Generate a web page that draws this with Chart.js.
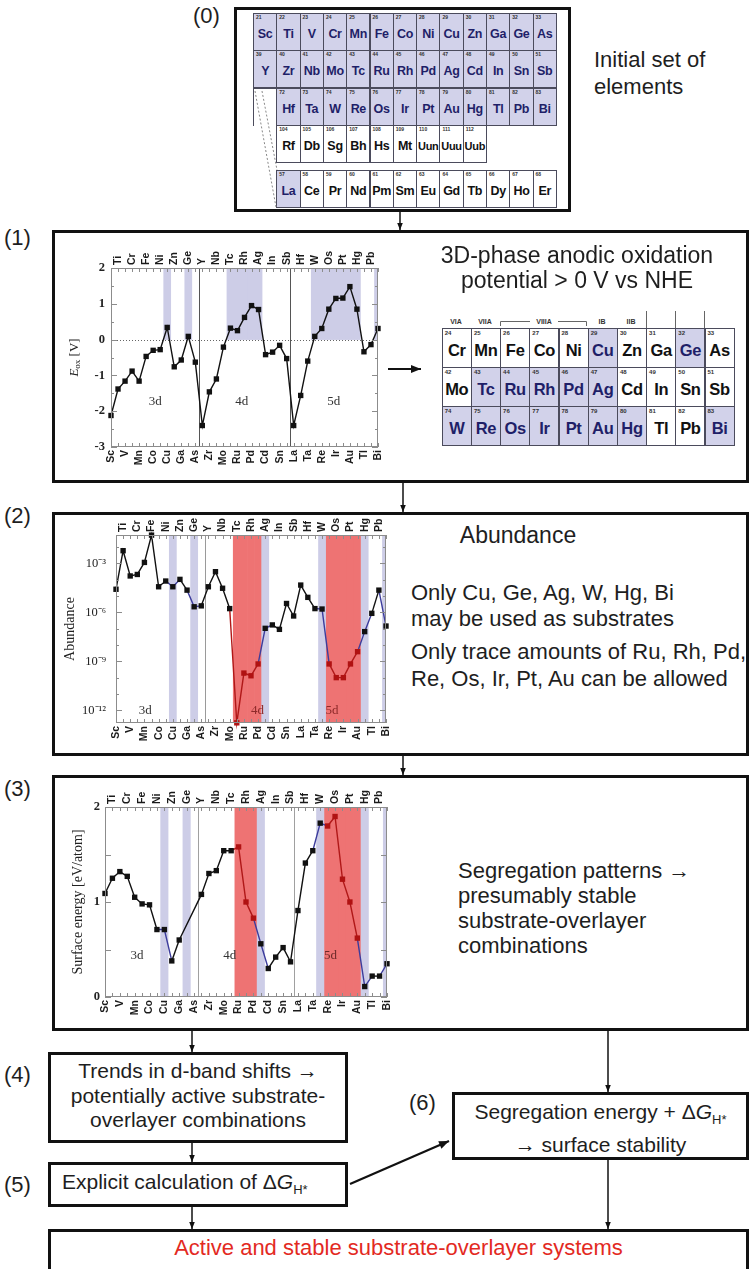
<!DOCTYPE html>
<html>
<head>
<meta charset="utf-8">
<title>Substrate-overlayer screening</title>
<script src="https://cdn.jsdelivr.net/npm/chart.js@4/dist/chart.umd.min.js"></script>
<style>
  body { margin: 0; background: #fff; }
  #page { position: relative; width: 753px; height: 1269px; overflow: hidden;
          font-family: 'Liberation Sans', Arial, sans-serif; color: #1e1e1e; }
  .box { position: absolute; box-sizing: border-box; border: 3px solid #111; background: #fff; }
  .tag { position: absolute; font-size: 22px; line-height: 22px; }
  .txt { position: absolute; font-size: 22px; line-height: 25px; white-space: nowrap; }
  .txt sub { font-size: 13px; color: #1e1e1e; }
  .ctr { text-align: center; }
  .ch { position: absolute; }
  .el { position: absolute; box-sizing: border-box; border: 1px solid #4b4b5c; background: #fff; }
  .el.on { background: #d2d2ea; }
  .el b { position: absolute; left: 0; right: 0; text-align: center; color: #111; letter-spacing: -0.3px; white-space: nowrap; }
  .el.on b { color: #1f1f68; }
  .el i { position: absolute; font-style: normal; font-weight: bold; color: #333; }
  .grp { position: absolute; width: 40px; text-align: center; font-size: 7px; line-height: 8px; font-weight: bold; color: #333; }
  svg { position: absolute; left: 0; top: 0; }
</style>
</head>
<body>
<div id="page">
  <!-- (0) initial set -->
  <div class="tag" style="left:193px;top:5px">(0)</div>
  <div class="box" style="left:234px;top:7px;width:337px;height:205px"></div>
  <div class="txt" style="left:594px;top:46px;line-height:27px">Initial set of<br>elements</div>

  <!-- (1) oxidation potential -->
  <div class="tag" style="left:4px;top:227px">(1)</div>
  <div class="box" style="left:52px;top:230px;width:697px;height:253px"></div>
  <canvas id="oxChart" class="ch" width="335" height="238" style="left:55px;top:238px"></canvas>
  <div class="txt ctr" style="left:377px;width:400px;top:243px;font-size:23px">3D-phase anodic oxidation<br>potential &gt; 0 V vs NHE</div>
  <div class="grp" style="left:436px;top:318px">VIA</div>
  <div class="grp" style="left:465px;top:318px">VIIA</div>
  <div class="grp" style="left:524px;top:318px">VIIIA</div>
  <div class="grp" style="left:582px;top:318px">IB</div>
  <div class="grp" style="left:611px;top:318px">IIB</div>

  <!-- (2) abundance -->
  <div class="tag" style="left:4px;top:505px">(2)</div>
  <div class="box" style="left:52px;top:512px;width:697px;height:244px"></div>
  <canvas id="abChart" class="ch" width="345" height="236" style="left:55px;top:513px"></canvas>
  <div class="txt ctr" style="left:418px;width:200px;top:523px;font-size:23px">Abundance</div>
  <div class="txt" style="left:411px;top:580px;line-height:26px">Only Cu, Ge, Ag, W, Hg, Bi<br>may be used as substrates</div>
  <div class="txt" style="left:411px;top:638px;line-height:27px">Only trace amounts of Ru, Rh, Pd,<br>Re, Os, Ir, Pt, Au can be allowed</div>

  <!-- (3) surface energy -->
  <div class="tag" style="left:4px;top:778px">(3)</div>
  <div class="box" style="left:52px;top:775px;width:697px;height:256px"></div>
  <canvas id="seChart" class="ch" width="345" height="245" style="left:55px;top:780px"></canvas>
  <div class="txt" style="left:458px;top:858px">Segregation patterns &rarr;<br>presumably stable<br>substrate-overlayer<br>combinations</div>

  <!-- (4)-(6) and result -->
  <div class="tag" style="left:4px;top:1064px">(4)</div>
  <div class="box" style="left:48px;top:1052px;width:300px;height:91px"></div>
  <div class="txt ctr" style="left:48px;width:300px;top:1059px;font-size:21px;line-height:24.5px">Trends in d-band shifts &rarr;<br>potentially active substrate-<br>overlayer combinations</div>

  <div class="tag" style="left:4px;top:1174px">(5)</div>
  <div class="box" style="left:48px;top:1162px;width:300px;height:45px"></div>
  <div class="txt" style="left:62px;top:1169px;font-size:21px">Explicit calculation of &Delta;<i>G</i><sub>H*</sub></div>

  <div class="tag" style="left:409px;top:1092px">(6)</div>
  <div class="box" style="left:452px;top:1092px;width:297px;height:68px"></div>
  <div class="txt ctr" style="left:452px;width:297px;top:1100px;font-size:21px;line-height:24.5px">Segregation energy + &Delta;<i>G</i><sub>H*</sub><br>&rarr; surface stability</div>

  <div class="box" style="left:48px;top:1229px;width:701px;height:61px"></div>
  <div class="txt ctr" style="left:48px;width:701px;top:1235px;color:#e32a1f">Active and stable substrate-overlayer systems</div>

  <svg id="links" width="753" height="1269">
    <defs>
      <marker id="ah" viewBox="0 0 10 10" refX="10" refY="5" markerWidth="7" markerHeight="7"
              orient="auto" markerUnits="userSpaceOnUse"><path d="M0,1 L10,5 L0,9 z" fill="#111"/></marker>
      <marker id="ahBig" viewBox="0 0 10 10" refX="10" refY="5" markerWidth="11" markerHeight="10"
              orient="auto" markerUnits="userSpaceOnUse"><path d="M0,1 L10,5 L0,9 z" fill="#111"/></marker>
    </defs>
    <g stroke="#111" stroke-width="1.5">
      <line x1="400" y1="212" x2="400" y2="230" marker-end="url(#ah)"/>
      <line x1="403" y1="483" x2="403" y2="512" marker-end="url(#ah)"/>
      <line x1="403" y1="756" x2="403" y2="775" marker-end="url(#ah)"/>
      <line x1="192" y1="1031" x2="192" y2="1052" marker-end="url(#ah)"/>
      <line x1="608" y1="1031" x2="608" y2="1092" marker-end="url(#ah)"/>
      <line x1="192" y1="1143" x2="192" y2="1162" marker-end="url(#ah)"/>
      <line x1="192" y1="1207" x2="192" y2="1229" marker-end="url(#ah)"/>
      <line x1="608" y1="1160" x2="608" y2="1229" marker-end="url(#ah)"/>
      <line x1="350" y1="1184" x2="449" y2="1141" stroke-width="2.2" marker-end="url(#ahBig)"/>
      <line x1="388" y1="369" x2="421" y2="369" stroke-width="2.2" marker-end="url(#ahBig)"/>
    </g>
    <g stroke="#888" stroke-width="1" stroke-dasharray="2,2" fill="none">
      <line x1="255" y1="91" x2="276" y2="207"/>
      <line x1="262" y1="91" x2="277" y2="170"/>
    </g>
    <g stroke="#666" stroke-width="1" fill="none">
      <path d="M500.5,326 L500.5,321.5 L530,321.5"/>
      <path d="M558,321.5 L586.5,321.5 L586.5,326"/>
      <line x1="646.5" y1="311" x2="646.5" y2="328"/>
      <line x1="675.5" y1="311" x2="675.5" y2="328"/>
      <line x1="704.5" y1="311" x2="704.5" y2="328"/>
    </g>
  </svg>
</div>

<script>
// transition-metal strip shared by all three panels
const elements = ['Sc','Ti','V','Cr','Mn','Fe','Co','Ni','Cu','Zn','Ga','Ge','As',
                  'Y','Zr','Nb','Mo','Tc','Ru','Rh','Pd','Ag','Cd','In','Sn','Sb',
                  'La','Hf','Ta','W','Re','Os','Ir','Pt','Au','Hg','Tl','Pb','Bi'];

// anodic oxidation potential E_ox [V vs NHE]
const oxidationPotential = [-2.12,-1.38,-1.16,-0.88,-1.16,-0.47,-0.30,-0.28, 0.34,-0.76,-0.57, 0.09,-0.63,
                            -2.40,-1.46,-1.10,-0.21, 0.32, 0.25, 0.62, 0.95, 0.84,-0.42,-0.35,-0.16,-0.53,
                            -2.40,-1.56,-0.60, 0.09, 0.31, 0.85, 1.15, 1.16, 1.48, 0.85,-0.34,-0.14, 0.31];
const eoxTicks = [-3, -2, -1, 0, 1, 2];

// crustal abundance (mass fraction)
const abundance = [2.6e-5, 6.0e-3, 1.7e-4, 2.1e-4, 1.15e-3, 5.4e-2, 3.7e-5, 8.3e-5, 3.7e-5, 1.05e-4, 2.3e-5, 2.2e-6, 2.5e-6,
                   3.7e-5, 3.1e-4, 3.0e-5, 1.7e-6, 1.7e-13, 1.9e-10, 1.3e-10, 6.9e-10, 1.05e-7, 1.7e-7, 9.1e-8, 3.5e-6, 6.0e-7,
                   4.7e-5, 8.3e-6, 1.7e-6, 1.6e-6, 6.9e-10, 1.0e-10, 1.0e-10, 6.9e-10, 3.9e-9, 6.6e-8, 8.7e-7, 2.3e-5, 1.45e-7];
const abundanceTicks = [1e-12, 1e-9, 1e-6, 1e-3];
const abundanceMinor = [1e-11, 1e-10, 1e-8, 1e-7, 1e-5, 1e-4, 1e-2];
const abundanceMin = 1.66e-13, abundanceMax = 5.5e-2;

// surface energy [eV/atom]; no value for Ge and As
const surfaceEnergy = [1.09, 1.25, 1.32, 1.27, 1.05, 0.98, 0.97, 0.71, 0.71, 0.38, 0.60, null, null,
                       1.08, 1.30, 1.33, 1.54, 1.54, 1.58, 1.00, 0.83, 0.56, 0.30, 0.42, 0.52, 0.37,
                       0.91, 1.41, 1.54, 1.83, 1.80, 1.90, 1.24, 1.00, 0.62, 0.11, 0.22, 0.22, 0.35];
const surfaceTicks = [0, 1, 2];

// element groups used for shading
const substrates = ['Cu','Ge','Ag','W','Hg','Bi'];
const traceAbundance = ['Tc','Ru','Rh','Pd','Re','Os','Ir','Pt','Au'];
const traceSurface = ['Ru','Rh','Pd','Re','Os','Ir','Pt','Au'];
const noblePotential = elements.filter((e, i) => oxidationPotential[i] > 0);

// periodic table rows
const tableRows = [
  { syms: ['Sc','Ti','V','Cr','Mn','Fe','Co','Ni','Cu','Zn','Ga','Ge','As'], z: 21, col: 0, on: true },
  { syms: ['Y','Zr','Nb','Mo','Tc','Ru','Rh','Pd','Ag','Cd','In','Sn','Sb'], z: 39, col: 0, on: true },
  { syms: ['Hf','Ta','W','Re','Os','Ir','Pt','Au','Hg','Tl','Pb','Bi'], z: 72, col: 1, on: true },
  { syms: ['Rf','Db','Sg','Bh','Hs','Mt','Uun','Uuu','Uub'], z: 104, col: 1, on: false },
  { syms: ['La','Ce','Pr','Nd','Pm','Sm','Eu','Gd','Tb','Dy','Ho','Er'], z: 57, col: 1, on: ['La'] }
];
const nobleRows = [
  { syms: ['Cr','Mn','Fe','Co','Ni','Cu','Zn','Ga','Ge','As'], z: 24 },
  { syms: ['Mo','Tc','Ru','Rh','Pd','Ag','Cd','In','Sn','Sb'], z: 42 },
  { syms: ['W','Re','Os','Ir','Pt','Au','Hg','Tl','Pb','Bi'], z: 74 }
];

const page = document.getElementById('page');
const links = document.getElementById('links');

function addCell(x, y, w, h, sym, num, on, symPx, numPx) {
  const d = document.createElement('div');
  d.className = 'el' + (on ? ' on' : '');
  Object.assign(d.style, { left: x + 'px', top: y + 'px', width: (w + 1) + 'px', height: (h + 1) + 'px' });
  const n = document.createElement('i');
  n.textContent = num;
  Object.assign(n.style, { left: '2px', top: '1px', fontSize: numPx + 'px', lineHeight: numPx + 'px' });
  const s = document.createElement('b');
  s.textContent = sym;
  const px = sym.length > 2 ? symPx - 1.5 : symPx;
  Object.assign(s.style, { top: (h / 2 - px * 0.5 + 2) + 'px', fontSize: px + 'px', lineHeight: px + 'px' });
  d.append(n, s);
  page.insertBefore(d, links);
}

const rowTops = [13, 50, 88, 125, 170];
tableRows.forEach((r, ri) => {
  r.syms.forEach((s, i) => {
    const on = Array.isArray(r.on) ? r.on.includes(s) : r.on;
    addCell(253 + (r.col + i) * 23.3, rowTops[ri], 23.3, 37, s, r.z + i, on, 12.5, 5);
  });
});
// empty lanthanide slot left of Hf
const slot = document.createElement('div');
Object.assign(slot.style, { position: 'absolute', left: '253px', top: '88px', width: '24px', height: '38px',
  borderLeft: '1px solid #4b4b5c', borderTop: '1px solid #4b4b5c', boxSizing: 'border-box' });
page.insertBefore(slot, links);

nobleRows.forEach((r, ri) => {
  r.syms.forEach((s, i) => {
    addCell(441.7 + i * 29.2, 328 + ri * 39, 29.2, 39, s, r.z + i, noblePotential.includes(s), 16.5, 6);
  });
});

// ---- charts ----
const SUP = { '-': '\u207b', '0': '\u2070', '1': '\u00b9', '2': '\u00b2', '3': '\u00b3', '4': '\u2074',
              '5': '\u2075', '6': '\u2076', '7': '\u2077', '8': '\u2078', '9': '\u2079' };
const sup = n => String(n).split('').map(c => SUP[c]).join('');

const LAV = '#cdcde7';
const RED = '#ee7373';
const serif = '"Liberation Serif", "Times New Roman", serif';
const LABEL_LH = 12.6; // 10.5px * 1.2

const bandRange = (list, lo, hi) => elements.map(e => list.includes(e) ? [lo, hi] : null);
const pointColors = list => elements.map(e => list.includes(e) ? '#b01212' : '#111');

function segmentColor(red, blue) {
  return ctx => {
    let r = false, b = false;
    for (let i = ctx.p0DataIndex; i <= ctx.p1DataIndex; i++) {
      if (blue.includes(elements[i])) b = true;
      if (red.includes(elements[i])) r = true;
    }
    return b ? '#3c3c9c' : r ? '#b01818' : '#111';
  };
}

// frame, inward ticks, period dividers, region names and axis title
const stripDecor = {
  id: 'stripDecor',
  beforeDatasetsDraw(chart, _args, o) {
    const { ctx, chartArea: a, scales: { x, y } } = chart;
    ctx.save();
    ctx.lineWidth = 1;
    ctx.strokeStyle = o.dividerColor;
    for (const v of o.dividers) {
      const px = Math.round(x.getPixelForValue(v)) + 0.5;
      ctx.beginPath(); ctx.moveTo(px, a.top); ctx.lineTo(px, a.bottom); ctx.stroke();
    }
    if (o.zeroLine) {
      const py = Math.round(y.getPixelForValue(0)) + 0.5;
      ctx.setLineDash([1, 2]);
      ctx.strokeStyle = '#666';
      ctx.beginPath(); ctx.moveTo(a.left, py); ctx.lineTo(a.right, py); ctx.stroke();
    }
    ctx.restore();
  },
  afterDatasetsDraw(chart, _args, o) {
    const { ctx, chartArea: a, scales: { x, y } } = chart;
    ctx.save();
    ctx.lineWidth = 1;
    ctx.strokeStyle = '#8c8c8c';
    ctx.strokeRect(Math.round(a.left) + 0.5, Math.round(a.top) + 0.5, Math.round(a.width) - 1, Math.round(a.height) - 1);
    ctx.beginPath();
    elements.forEach((_, i) => {
      const px = Math.round(x.getPixelForValue(i)) + 0.5;
      ctx.moveTo(px, a.top); ctx.lineTo(px, a.top + 4);
      ctx.moveTo(px, a.bottom); ctx.lineTo(px, a.bottom - 4);
    });
    const yTick = (v, len) => {
      const py = Math.round(y.getPixelForValue(v)) + 0.5;
      ctx.moveTo(a.left, py); ctx.lineTo(a.left + len, py);
      ctx.moveTo(a.right, py); ctx.lineTo(a.right - len, py);
    };
    y.ticks.forEach(t => yTick(t.value, 6));
    o.yMinor.forEach(v => yTick(v, 3));
    ctx.stroke();

    ctx.font = '13px ' + serif;
    ctx.textAlign = 'center';
    ctx.textBaseline = 'middle';
    for (const r of o.regions) {
      ctx.fillStyle = r.color;
      ctx.fillText(r.text, x.getPixelForValue(r.x), y.getPixelForValue(r.y));
    }
    ctx.restore();
  },
  afterDraw(chart, _args, o) {
    const { ctx, chartArea: a } = chart;
    ctx.save();
    ctx.translate(o.titleX, (a.top + a.bottom) / 2);
    ctx.rotate(-Math.PI / 2);
    ctx.fillStyle = '#222';
    ctx.textBaseline = 'middle';
    let w = 0;
    for (const p of o.title) { ctx.font = p.font; w += ctx.measureText(p.text).width; }
    let cx = -w / 2;
    for (const p of o.title) {
      ctx.font = p.font;
      ctx.fillText(p.text, cx, p.dy || 0);
      cx += ctx.measureText(p.text).width;
    }
    ctx.restore();
  }
};

function stripChart(id, c) {
  const xTicks = odd => ({
    autoSkip: false, minRotation: 90, maxRotation: 90, padding: c.xPad,
    // rotated labels on a top axis sit one line height left of the tick
    labelOffset: odd ? LABEL_LH : 0,
    color: '#1a1a1a', font: { family: 'Liberation Sans', size: 10.5, weight: 'bold', lineHeight: 1.2 },
    callback(v, i) { return i % 2 === (odd ? 1 : 0) ? this.getLabelForValue(v) : ''; }
  });
  const noGrid = { display: false, drawTicks: false };
  return new Chart(document.getElementById(id), {
    type: 'line',
    data: { labels: elements, datasets: c.datasets },
    options: {
      responsive: false,
      animation: false,
      layout: { padding: { right: c.padRight } },
      plugins: { legend: { display: false }, tooltip: { enabled: false }, stripDecor: c.decor },
      scales: {
        x: {
          type: 'category', position: 'bottom', offset: false,
          grid: noGrid, border: { display: false }, ticks: xTicks(false),
          afterFit: s => { s.height = c.bottomH; s.paddingLeft = 0; s.paddingRight = 0; }
        },
        x2: {
          type: 'category', position: 'top', offset: false,
          grid: noGrid, border: { display: false }, ticks: xTicks(true),
          afterFit: s => { s.height = c.topH; s.paddingLeft = 0; s.paddingRight = 0; }
        },
        y: Object.assign({
          position: 'left', grid: noGrid, border: { display: false },
          afterFit: s => { s.width = c.leftW; s.paddingTop = 0; s.paddingBottom = 0; }
        }, c.y)
      }
    },
    plugins: [stripDecor]
  });
}

const lineStyle = {
  type: 'line', borderWidth: 1.4, pointStyle: 'rect', pointRadius: 3.8, pointBorderWidth: 0,
  tension: 0, clip: false, order: 0, spanGaps: true
};
const bandStyle = { type: 'bar', grouped: false, barPercentage: 1, categoryPercentage: 1, borderWidth: 0, order: 1 };

// (1) anodic oxidation potential
stripChart('oxChart', {
  padRight: 12, leftW: 56, topH: 30, bottomH: 29, xPad: 3,
  datasets: [
    Object.assign({}, lineStyle, { data: oxidationPotential, borderColor: '#111', pointBackgroundColor: '#111' }),
    Object.assign({}, bandStyle, { data: bandRange(noblePotential, 0, 2), backgroundColor: LAV })
  ],
  y: {
    min: -3, max: 2,
    afterBuildTicks: s => { s.ticks = eoxTicks.map(v => ({ value: v })); },
    ticks: { padding: 6, color: '#222', font: { family: 'Liberation Serif', size: 12.5, weight: 'bold' } }
  },
  decor: {
    dividers: [12.5, 25.5], dividerColor: '#555', zeroLine: true,
    yMinor: [-2.5, -1.5, -0.5, 0.5, 1.5],
    regions: [{ text: '3d', x: 6.3, y: -1.72, color: '#333' },
              { text: '4d', x: 18.6, y: -1.72, color: '#333' },
              { text: '5d', x: 31.7, y: -1.72, color: '#333' }],
    titleX: 20,
    title: [{ text: 'E', font: 'italic 13px ' + serif },
            { text: 'ox', font: '9px ' + serif, dy: 3 },
            { text: ' [V]', font: '13px ' + serif }]
  }
});

// (2) abundance
stripChart('abChart', {
  padRight: 14, leftW: 61, topH: 22, bottomH: 26, xPad: 3,
  datasets: [
    Object.assign({}, lineStyle, {
      data: abundance, borderColor: '#111', pointBackgroundColor: pointColors(traceAbundance),
      segment: { borderColor: segmentColor(traceAbundance, substrates) }
    }),
    Object.assign({}, bandStyle, { data: bandRange(substrates, abundanceMin, abundanceMax), backgroundColor: LAV }),
    Object.assign({}, bandStyle, { data: bandRange(traceAbundance, abundanceMin, abundanceMax), backgroundColor: RED })
  ],
  y: {
    type: 'logarithmic', min: abundanceMin, max: abundanceMax,
    afterBuildTicks: s => { s.ticks = abundanceTicks.map(v => ({ value: v })); },
    ticks: {
      padding: 10, color: '#222', font: { family: 'Liberation Serif', size: 12.5 },
      callback: v => '10' + sup(Math.round(Math.log10(v)))
    }
  },
  decor: {
    dividers: [12.5], dividerColor: '#9a9a9a', zeroLine: false,
    yMinor: abundanceMinor,
    regions: [{ text: '3d', x: 4.1, y: 1e-12, color: '#333' },
              { text: '4d', x: 19.9, y: 1e-12, color: '#8e2a2a' },
              { text: '5d', x: 30.4, y: 1e-12, color: '#8e2a2a' }],
    titleX: 15,
    title: [{ text: 'Abundance', font: '14px ' + serif }]
  }
});

// (3) surface energy
stripChart('seChart', {
  padRight: 13, leftW: 50, topH: 27, bottomH: 28, xPad: 3,
  datasets: [
    Object.assign({}, lineStyle, {
      data: surfaceEnergy, borderColor: '#111', pointBackgroundColor: pointColors(traceSurface),
      segment: { borderColor: segmentColor(traceSurface, substrates) }
    }),
    Object.assign({}, bandStyle, { data: bandRange(substrates, 0, 2), backgroundColor: LAV }),
    Object.assign({}, bandStyle, { data: bandRange(traceSurface, 0, 2), backgroundColor: RED })
  ],
  y: {
    min: 0, max: 2,
    ticks: {
      stepSize: 0.5, padding: 5, color: '#222', font: { family: 'Liberation Serif', size: 12.5, weight: 'bold' },
      callback: v => surfaceTicks.includes(v) ? String(v) : ''
    }
  },
  decor: {
    dividers: [12.5, 25.5], dividerColor: '#a0a0a0', zeroLine: false,
    yMinor: [],
    regions: [{ text: '3d', x: 4.3, y: 0.44, color: '#333' },
              { text: '4d', x: 16.8, y: 0.44, color: '#333' },
              { text: '5d', x: 30.4, y: 0.44, color: '#6e2a2a' }],
    titleX: 23,
    title: [{ text: 'Surface energy [eV/atom]', font: '14px ' + serif }]
  }
});
</script>
</body>
</html>
